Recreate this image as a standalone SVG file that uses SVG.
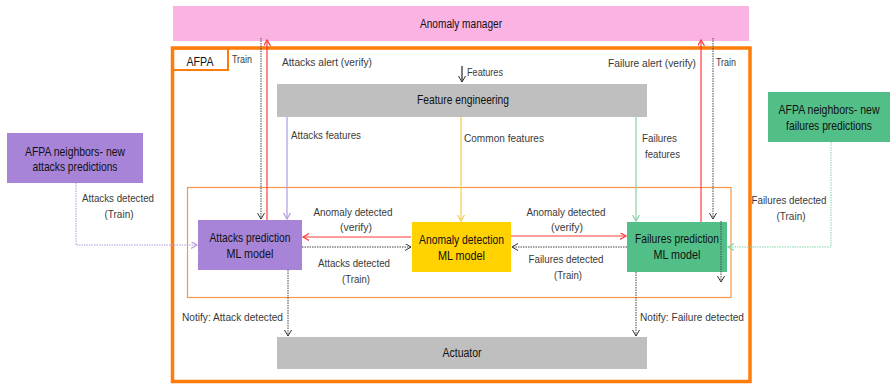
<svg xmlns="http://www.w3.org/2000/svg" width="891" height="384" viewBox="0 0 891 384">
<style>
text{font-family:"Liberation Sans",Arial,sans-serif;}
.lbl{font-size:11.5px;fill:#3a3a3a;}
.ttl{font-size:12.5px;fill:#111;}
.mdl{font-size:13px;fill:#111;}
.c{text-anchor:middle;}
.r{text-anchor:end;}
.dot{stroke-dasharray:1.5 1;fill:none;stroke-width:1;}
.sol{fill:none;stroke-width:1.2;}
</style>
<defs>
<marker id="aBk" markerUnits="userSpaceOnUse" markerWidth="10" markerHeight="10" refX="6" refY="3.5" orient="auto"><path d="M0,0 L6,3.5 L0,7" fill="none" stroke="#333" stroke-width="1"/></marker>
<marker id="aRd" markerUnits="userSpaceOnUse" markerWidth="10" markerHeight="10" refX="6" refY="3.5" orient="auto"><path d="M0,0 L6,3.5 L0,7" fill="none" stroke="#ff3b3b" stroke-width="1.2"/></marker>
<marker id="aLv" markerUnits="userSpaceOnUse" markerWidth="10" markerHeight="10" refX="6" refY="3.5" orient="auto"><path d="M0,0 L6,3.5 L0,7" fill="none" stroke="#b39ae0" stroke-width="1.2"/></marker>
<marker id="aYl" markerUnits="userSpaceOnUse" markerWidth="10" markerHeight="10" refX="6" refY="3.5" orient="auto"><path d="M0,0 L6,3.5 L0,7" fill="none" stroke="#f2cf4a" stroke-width="1.2"/></marker>
<marker id="aGn" markerUnits="userSpaceOnUse" markerWidth="10" markerHeight="10" refX="6" refY="3.5" orient="auto"><path d="M0,0 L6,3.5 L0,7" fill="none" stroke="#86d3a8" stroke-width="1.2"/></marker>
</defs>

<g id="anomaly-manager">
<rect x="173" y="6" width="576" height="35" fill="#fbb3e4"/>
<text class="ttl c" x="461" y="28" textLength="82" lengthAdjust="spacingAndGlyphs">Anomaly manager</text>
</g>

<g id="afpa">
<rect x="172.5" y="48" width="577.5" height="333.5" fill="none" stroke="#ff7c0a" stroke-width="3.5"/>
<rect x="173" y="48.5" width="55" height="21.5" fill="none" stroke="#ff7c0a" stroke-width="2"/>
<text class="ttl c" x="200" y="66" textLength="27" lengthAdjust="spacingAndGlyphs">AFPA</text>
</g>

<g id="inner-box">
<rect x="187.5" y="187.5" width="543.5" height="110" fill="none" stroke="#f7964a" stroke-width="1.2"/>
</g>

<g id="feature-engineering">
<rect x="277" y="84" width="370" height="33" fill="#bfbfbf"/>
<text class="ttl c" x="463" y="104" textLength="92" lengthAdjust="spacingAndGlyphs">Feature engineering</text>
</g>

<g id="actuator">
<rect x="277" y="337" width="370" height="32" fill="#bfbfbf"/>
<text class="ttl c" x="462" y="357" textLength="39" lengthAdjust="spacingAndGlyphs">Actuator</text>
</g>

<g id="attacks-neighbors">
<rect x="7" y="133" width="136" height="50" fill="#a884d9"/>
<text class="mdl c" x="75" y="156" textLength="100" lengthAdjust="spacingAndGlyphs">AFPA neighbors- new</text>
<text class="mdl c" x="75" y="171" textLength="85" lengthAdjust="spacingAndGlyphs">attacks predictions</text>
</g>

<g id="failures-neighbors">
<rect x="768" y="92" width="122" height="50" fill="#52bf88"/>
<text class="mdl c" transform="translate(829,114) scale(0.76,1)" x="0" y="0" textLength="133" lengthAdjust="spacingAndGlyphs">AFPA neighbors- new</text>
<text class="mdl c" transform="translate(829,130) scale(0.76,1)" x="0" y="0" textLength="113" lengthAdjust="spacingAndGlyphs">failures predictions</text>
</g>

<g id="attacks-model">
<rect x="198" y="220" width="104" height="50" fill="#a884d9"/>
<text class="mdl c" x="250" y="242" textLength="81" lengthAdjust="spacingAndGlyphs">Attacks prediction</text>
<text class="mdl c" x="250" y="258" textLength="47" lengthAdjust="spacingAndGlyphs">ML model</text>
</g>

<g id="anomaly-model">
<rect x="412" y="222" width="99" height="50" fill="#ffd200"/>
<text class="mdl c" x="461.5" y="244" textLength="85" lengthAdjust="spacingAndGlyphs">Anomaly detection</text>
<text class="mdl c" x="461.5" y="260" textLength="47" lengthAdjust="spacingAndGlyphs">ML model</text>
</g>

<g id="failures-model">
<rect x="627" y="222" width="100" height="50" fill="#52bf88"/>
<text class="mdl c" x="677" y="243" textLength="84" lengthAdjust="spacingAndGlyphs">Failures prediction</text>
<text class="mdl c" x="677" y="259" textLength="47" lengthAdjust="spacingAndGlyphs">ML model</text>
</g>

<g id="connectors">
<line class="dot" x1="261" y1="38" x2="261" y2="219" stroke="#444" marker-end="url(#aBk)"/>
<line class="sol" x1="267" y1="220" x2="267" y2="40" stroke="#ff3b3b" marker-end="url(#aRd)"/>
<line class="sol" x1="701" y1="222" x2="701" y2="40" stroke="#ff3b3b" marker-end="url(#aRd)"/>
<line class="dot" x1="713" y1="38" x2="713" y2="219" stroke="#444" marker-end="url(#aBk)"/>
<line class="sol" x1="462" y1="66" x2="462" y2="82" stroke="#222" marker-end="url(#aBk)"/>
<line class="sol" x1="287" y1="117" x2="287" y2="219" stroke="#b39ae0" marker-end="url(#aLv)"/>
<line class="sol" x1="461" y1="117" x2="461" y2="221" stroke="#f2cf4a" marker-end="url(#aYl)"/>
<line class="sol" x1="636" y1="117" x2="636" y2="221" stroke="#86d3a8" marker-end="url(#aGn)"/>
<line class="sol" x1="411" y1="237" x2="303" y2="237" stroke="#ff3b3b" marker-end="url(#aRd)"/>
<line class="dot" x1="302" y1="247" x2="411" y2="247" stroke="#444" marker-end="url(#aBk)"/>
<line class="sol" x1="511" y1="236" x2="626" y2="236" stroke="#ff3b3b" marker-end="url(#aRd)"/>
<line class="dot" x1="627" y1="247" x2="512" y2="247" stroke="#444" marker-end="url(#aBk)"/>
<polyline class="dot" points="76,183 76,245 197,245" stroke="#b39ae0" marker-end="url(#aLv)"/>
<polyline class="dot" points="831,142 831,247 728,247" stroke="#86d3a8" marker-end="url(#aGn)"/>
<line class="dot" x1="721" y1="221" x2="721" y2="282" stroke="#444" marker-end="url(#aBk)"/>
<line class="dot" x1="288" y1="270" x2="288" y2="336" stroke="#444" marker-end="url(#aBk)"/>
<line class="dot" x1="636" y1="272" x2="636" y2="336" stroke="#444" marker-end="url(#aBk)"/>
</g>

<g id="labels">
<text class="lbl" x="232" y="63" textLength="20" lengthAdjust="spacingAndGlyphs">Train</text>
<text class="lbl" x="282" y="66" textLength="90" lengthAdjust="spacingAndGlyphs">Attacks alert (verify)</text>
<text class="lbl" x="467" y="76" textLength="36" lengthAdjust="spacingAndGlyphs">Features</text>
<text class="lbl" x="608" y="67" textLength="88" lengthAdjust="spacingAndGlyphs">Failure alert (verify)</text>
<text class="lbl" x="716" y="66" textLength="20" lengthAdjust="spacingAndGlyphs">Train</text>
<text class="lbl" x="291" y="139" textLength="70" lengthAdjust="spacingAndGlyphs">Attacks features</text>
<text class="lbl" x="464" y="142" textLength="80" lengthAdjust="spacingAndGlyphs">Common features</text>
<text class="lbl" x="642" y="142" textLength="35" lengthAdjust="spacingAndGlyphs">Failures</text>
<text class="lbl" x="645" y="158" textLength="35" lengthAdjust="spacingAndGlyphs">features</text>
<text class="lbl c" x="118" y="202" textLength="72" lengthAdjust="spacingAndGlyphs">Attacks detected</text>
<text class="lbl c" x="119" y="218" textLength="29" lengthAdjust="spacingAndGlyphs">(Train)</text>
<text class="lbl c" x="353" y="216" textLength="79" lengthAdjust="spacingAndGlyphs">Anomaly detected</text>
<text class="lbl c" x="356" y="231" textLength="32" lengthAdjust="spacingAndGlyphs">(verify)</text>
<text class="lbl c" x="354" y="267" textLength="72" lengthAdjust="spacingAndGlyphs">Attacks detected</text>
<text class="lbl c" x="356" y="283" textLength="28" lengthAdjust="spacingAndGlyphs">(Train)</text>
<text class="lbl c" x="566" y="216" textLength="79" lengthAdjust="spacingAndGlyphs">Anomaly detected</text>
<text class="lbl c" x="567" y="231" textLength="32" lengthAdjust="spacingAndGlyphs">(verify)</text>
<text class="lbl c" x="566" y="263" textLength="75" lengthAdjust="spacingAndGlyphs">Failures detected</text>
<text class="lbl c" x="568" y="279" textLength="28" lengthAdjust="spacingAndGlyphs">(Train)</text>
<text class="lbl c" x="789" y="204" textLength="75" lengthAdjust="spacingAndGlyphs">Failures detected</text>
<text class="lbl c" x="791" y="220" textLength="29" lengthAdjust="spacingAndGlyphs">(Train)</text>
<text class="lbl" x="182" y="321" textLength="101" lengthAdjust="spacingAndGlyphs">Notify: Attack detected</text>
<text class="lbl" x="640" y="321" textLength="104" lengthAdjust="spacingAndGlyphs">Notify: Failure detected</text>
</g>
</svg>
